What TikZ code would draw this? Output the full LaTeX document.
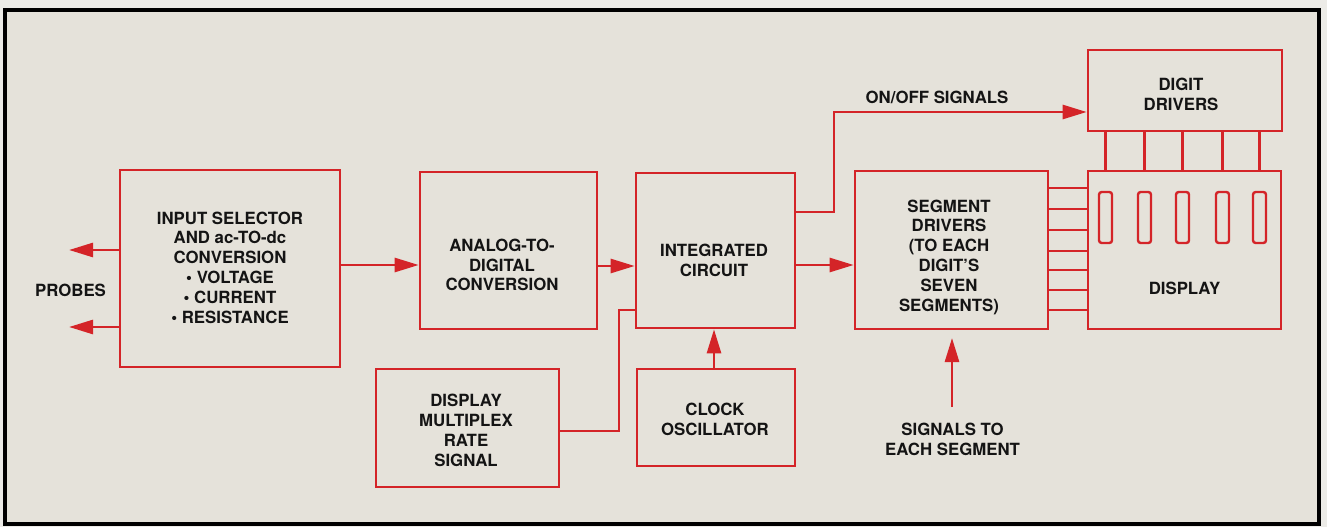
\documentclass[tikz,border=0pt]{standalone}
\usepackage{fontspec}
\setmainfont{TeX Gyre Heros}
\usetikzlibrary{arrows.meta}
\definecolor{bgin}{RGB}{229,226,218}
\definecolor{bgout}{RGB}{236,235,231}
\definecolor{rd}{RGB}{212,36,40}
\begin{document}
\begin{tikzpicture}[x=0.75pt,y=-0.75pt,
  box/.style={draw=rd, line width=2pt, inner sep=0pt},
  digit/.style={draw=rd, line width=1.8pt, rounded corners=2pt, inner sep=0pt,
                minimum width=9.75pt, minimum height=38.25pt},
  txt/.style={font=\bfseries\fontsize{12.6}{14.85}\selectfont, align=center,
              inner sep=0pt, text=black!92},
  wire/.style={draw=rd, line width=2pt},
  arr/.style={wire, -{Triangle[length=18pt,width=10.5pt]}}]
\useasboundingbox (0,0) rectangle (1327,527);
\fill[bgout] (0,0) rectangle (1327,527);
\fill[bgin] (5,10) rectangle (1319,524);
\draw[line width=3pt, black] (5,10) rectangle (1319,524);

% boxes
\node[box, minimum width=165pt,    minimum height=147.75pt] (inp)  at (230,268.5) {};
\node[box, minimum width=132.75pt, minimum height=117.75pt] (adc)  at (508.5,250.5) {};
\node[box, minimum width=119.25pt, minimum height=116.25pt] (ic)   at (715.5,250.5) {};
\node[box, minimum width=144.75pt, minimum height=118.5pt]  (seg)  at (951.5,250) {};
\node[box, minimum width=145.5pt,  minimum height=60.75pt]  (dig)  at (1185,90.5) {};
\node[box, minimum width=144.75pt, minimum height=118.5pt]  (disp) at (1184.5,250) {};
\node[box, minimum width=137.25pt, minimum height=88.5pt]   (mux)  at (467.5,428) {};
\node[box, minimum width=118.5pt,  minimum height=72.75pt]  (clk)  at (716,417.5) {};

% texts
\node[txt] (inpt) at (230,267.5) {INPUT SELECTOR\\AND ac-TO-dc\\CONVERSION\\\textbullet\ VOLTAGE\\\textbullet\ CURRENT\\\textbullet\ RESISTANCE};
\node[txt] (adct) at (502,265) {ANALOG-TO-\\DIGITAL\\CONVERSION};
\node[txt] (ict)  at (714,260.5) {INTEGRATED\\CIRCUIT};
\node[txt] (segt) at (949,257) {SEGMENT\\DRIVERS\\(TO EACH\\DIGIT'S\\SEVEN\\SEGMENTS)};
\node[txt] (digt) at (1181,94.5) {DIGIT\\DRIVERS};
\node[txt] (dispt) at (1184.5,288) {DISPLAY};
\node[txt] (muxt) at (466,430.5) {DISPLAY\\MULTIPLEX\\RATE\\SIGNAL};
\node[txt] (clkt) at (715,419) {CLOCK\\OSCILLATOR};
\node[txt] (probes) at (70.5,290) {PROBES};
\node[txt] (onoff) at (937,97) {ON/OFF SIGNALS};
\node[txt] (sig) at (952.5,439) {SIGNALS TO\\EACH SEGMENT};

% digit segments in display
\foreach \x [count=\i] in {1105.5,1144.5,1182.5,1222.5,1259.5}{
  \node[digit] (d\i) at (\x,217.5) {};
  \draw[wire] (dig.south -| d\i) -- (disp.north -| d\i);
}

% segment lines
\foreach \y [count=\i] in {188,209,230,251,270,290,310}{
  \coordinate (sy\i) at (0,\y);
  \draw[wire] (seg.east |- sy\i) -- (disp.west |- sy\i);
}

% probes
\coordinate (p1) at (69,250);
\coordinate (p2) at (69,327);
\draw[arr] (inp.west |- p1) -- (p1);
\draw[arr] (inp.west |- p2) -- (p2);

% main chain
\coordinate (ya) at (0,265);
\coordinate (yb) at (0,266);
\draw[arr] (inp.east |- ya) -- (adc.west |- ya);
\draw[arr] (adc.east |- yb) -- (ic.west |- yb);
\draw[arr] (ic.east |- ya) -- (seg.west |- ya);

% on/off signals
\coordinate (on1) at (834,212);
\coordinate (on2) at (834,112);
\draw[arr] (ic.east |- on1) -- (on1) -- (on2) -- (dig.west |- on2);

% multiplex
\coordinate (m1) at (619,431);
\coordinate (m2) at (619,310);
\draw[wire] (mux.east |- m1) -- (m1) -- (m2) -- (ic.west |- m2);

% clock
\coordinate (cx) at (714,0);
\draw[arr] (clk.north -| cx) -- (ic.south -| cx);

% signals to each segment
\coordinate (sbase) at (952,407);
\coordinate (stip) at (952,338);
\draw[arr] (sbase) -- (stip);
\end{tikzpicture}
\end{document}
